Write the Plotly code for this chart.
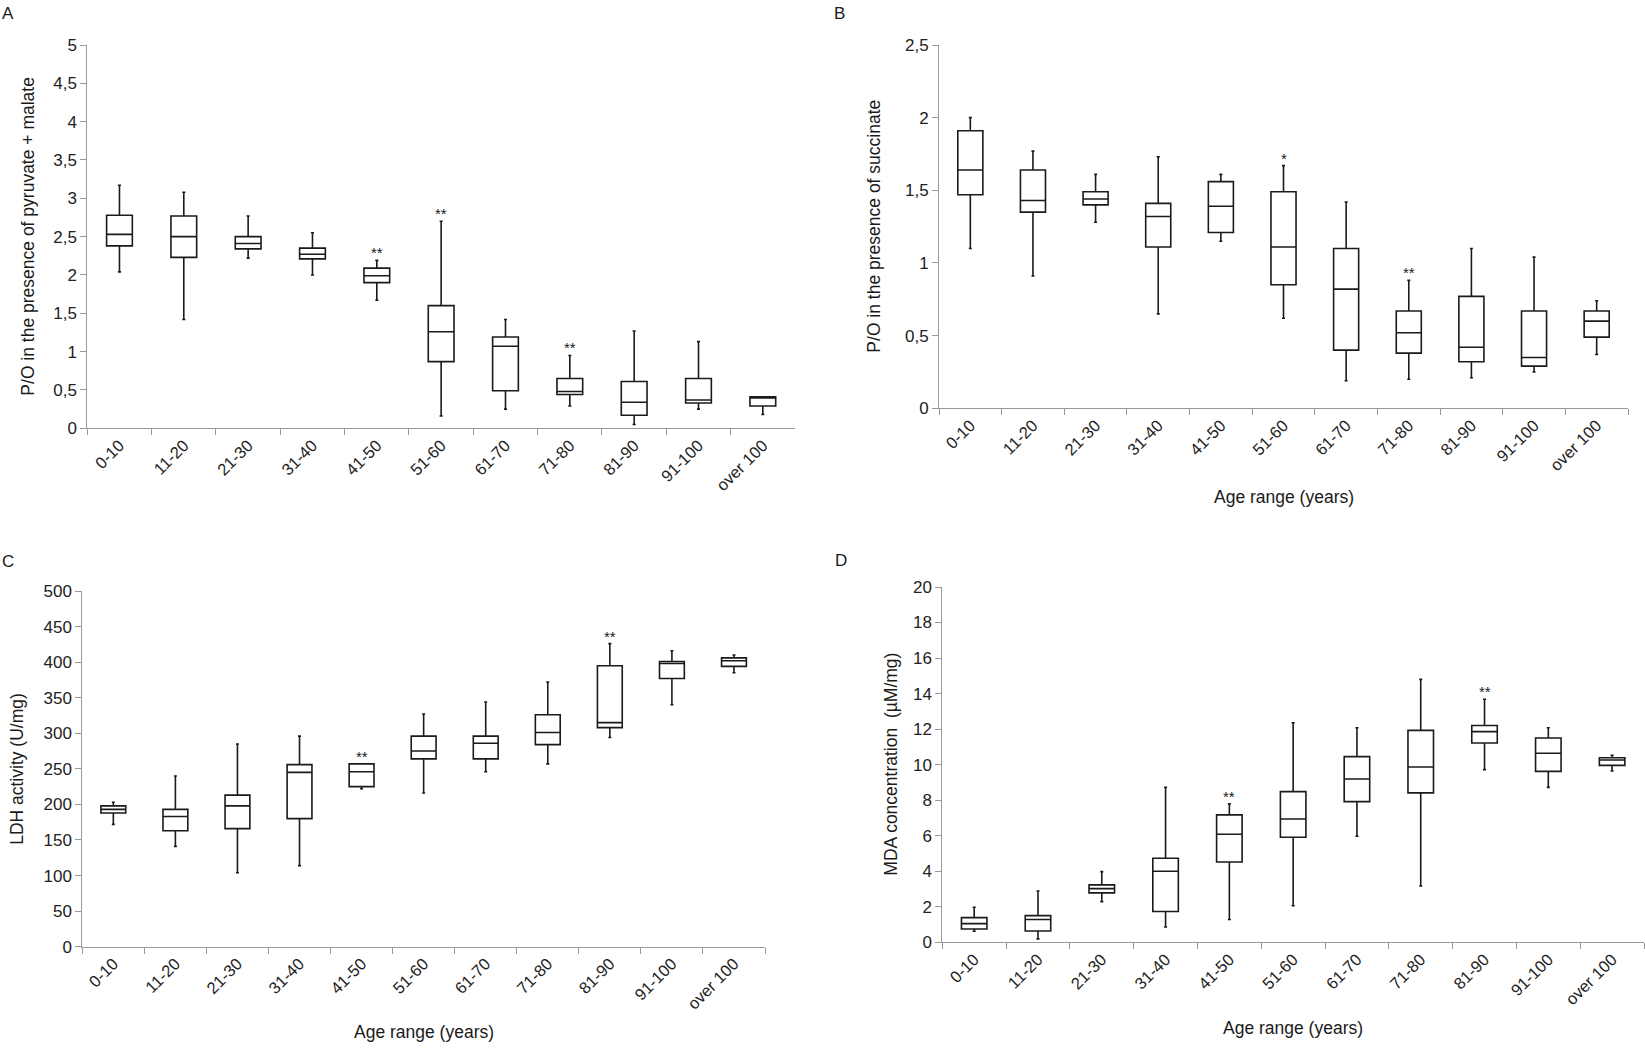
import plotly.graph_objects as go

W, H = 1645, 1051

ages = ["0-10", "11-20", "21-30", "31-40", "41-50", "51-60",
        "61-70", "71-80", "81-90", "91-100", "over 100"]

# A: P/O with pyruvate + malate
a_low = [2.04, 1.42, 2.22, 2.00, 1.67, 0.16, 0.25, 0.29, 0.05, 0.25, 0.18]
a_q1 = [2.38, 2.23, 2.34, 2.21, 1.90, 0.87, 0.49, 0.44, 0.17, 0.33, 0.29]
a_med = [2.53, 2.50, 2.41, 2.27, 1.99, 1.26, 1.07, 0.48, 0.34, 0.37, 0.40]
a_q3 = [2.78, 2.77, 2.50, 2.35, 2.09, 1.60, 1.19, 0.65, 0.61, 0.65, 0.41]
a_high = [3.17, 3.08, 2.77, 2.55, 2.19, 2.70, 1.42, 0.95, 1.27, 1.13, 0.41]
a_stars = {"41-50": "**", "51-60": "**", "71-80": "**"}

# B: P/O with succinate
b_low = [1.10, 0.91, 1.28, 0.65, 1.15, 0.62, 0.19, 0.20, 0.21, 0.25, 0.37]
b_q1 = [1.47, 1.35, 1.40, 1.11, 1.21, 0.85, 0.40, 0.38, 0.32, 0.29, 0.49]
b_med = [1.64, 1.43, 1.44, 1.32, 1.39, 1.11, 0.82, 0.52, 0.42, 0.35, 0.60]
b_q3 = [1.91, 1.64, 1.49, 1.41, 1.56, 1.49, 1.10, 0.67, 0.77, 0.67, 0.67]
b_high = [2.00, 1.77, 1.61, 1.73, 1.61, 1.67, 1.42, 0.88, 1.10, 1.04, 0.74]
b_stars = {"51-60": "*", "71-80": "**"}

# C: LDH activity
c_low = [172, 141, 104, 114, 222, 216, 246, 257, 294, 340, 385]
c_q1 = [188, 163, 166, 180, 225, 264, 264, 284, 308, 377, 394]
c_med = [193, 183, 198, 245, 246, 275, 286, 301, 315, 398, 402]
c_q3 = [198, 193, 213, 256, 257, 296, 296, 326, 395, 401, 406]
c_high = [203, 240, 285, 296, 257, 327, 344, 372, 426, 416, 410]
c_stars = {"41-50": "**", "81-90": "**"}

# D: MDA concentration
d_low = [0.62, 0.19, 2.29, 0.86, 1.28, 2.06, 5.97, 3.17, 9.72, 8.72, 9.64]
d_q1 = [0.75, 0.64, 2.78, 1.73, 4.52, 5.91, 7.92, 8.41, 11.22, 9.62, 9.96]
d_med = [1.05, 1.28, 3.02, 4.00, 6.08, 6.94, 9.19, 9.87, 11.86, 10.64, 10.26]
d_q3 = [1.39, 1.50, 3.23, 4.73, 7.17, 8.48, 10.45, 11.93, 12.20, 11.50, 10.39]
d_high = [1.97, 2.89, 3.98, 8.72, 7.79, 12.36, 12.08, 14.80, 13.68, 12.08, 10.53]
d_stars = {"41-50": "**", "81-90": "**"}

FONT = "Liberation Sans, Arial, sans-serif"
AXIS_GREY = "#9a9a9a"
INK = "#1a1a1a"


def px_x(p):
    return p / W


def px_y(p):
    return 1 - p / H


# pixel placement of each panel in the 1645x1051 page
panels = [
    dict(stats=(a_low, a_q1, a_med, a_q3, a_high), stars=a_stars, ymax=5, dtick=0.5,
         ytitle="P/O in the presence of pyruvate + malate", xdom=(87.3, 795), ydom=(45, 428.3),
         letter=("A", 8, 14), ytx=28, xty=None),
    dict(stats=(b_low, b_q1, b_med, b_q3, b_high), stars=b_stars, ymax=2.5, dtick=0.5,
         ytitle="P/O in the presence of succinate", xdom=(939, 1628), ydom=(45, 408.3),
         letter=("B", 840, 14), ytx=874, xty=497),
    dict(stats=(c_low, c_q1, c_med, c_q3, c_high), stars=c_stars, ymax=500, dtick=50,
         ytitle="LDH activity (U/mg)", xdom=(82.3, 765), ydom=(591, 946.7),
         letter=("C", 8, 561), ytx=17, xty=1032),
    dict(stats=(d_low, d_q1, d_med, d_q3, d_high), stars=d_stars, ymax=20, dtick=2,
         ytitle="MDA concentration  (µM/mg)", xdom=(942.3, 1644), ydom=(587, 942.3),
         letter=("D", 841, 560), ytx=891, xty=1028),
]

fig = go.Figure()
annotations = []
layout = {}

for i, p in enumerate(panels, start=1):
    sfx = "" if i == 1 else str(i)
    low, q1, med, q3, high = p["stats"]
    fig.add_trace(go.Box(
        x=ages, q1=q1, median=med, q3=q3, lowerfence=low, upperfence=high,
        xaxis="x" + sfx, yaxis="y" + sfx,
        width=0.4, whiskerwidth=0.12, boxpoints=False,
        fillcolor="white", line=dict(color=INK, width=1.6),
        showlegend=False, hoverinfo="skip",
    ))
    layout["xaxis" + sfx] = dict(
        domain=[px_x(p["xdom"][0]), px_x(p["xdom"][1])], anchor="y" + sfx,
        type="category", categoryorder="array", categoryarray=ages,
        range=[-0.5, len(ages) - 0.5], showline=True, linecolor=AXIS_GREY, linewidth=1,
        ticks="outside", tickson="boundaries", ticklen=6, tickcolor=AXIS_GREY,
        tickangle=-45, tickfont=dict(size=16.5, color="#222", family=FONT),
        showgrid=False, zeroline=False, automargin=False,
    )
    layout["yaxis" + sfx] = dict(
        domain=[px_y(p["ydom"][1]), px_y(p["ydom"][0])], anchor="x" + sfx,
        range=[0, p["ymax"]], dtick=p["dtick"], showline=True, linecolor=AXIS_GREY,
        linewidth=1, ticks="outside", ticklen=6, tickcolor=AXIS_GREY,
        tickfont=dict(size=17, color="#222", family=FONT),
        showgrid=False, zeroline=False, automargin=False,
    )
    for cat, mark in p["stars"].items():
        k = ages.index(cat)
        annotations.append(dict(
            x=cat, y=high[k], xref="x" + sfx, yref="y" + sfx, text=mark,
            showarrow=False, yanchor="bottom", yshift=-3,
            font=dict(size=15, color=INK, family=FONT),
        ))
    letter, lx, ly = p["letter"]
    annotations.append(dict(
        x=px_x(lx), y=px_y(ly), xref="paper", yref="paper", text=letter,
        showarrow=False, xanchor="center", yanchor="middle",
        font=dict(size=17, color=INK, family=FONT),
    ))
    annotations.append(dict(
        x=px_x(p["ytx"]), y=(px_y(p["ydom"][0]) + px_y(p["ydom"][1])) / 2,
        xref="paper", yref="paper", text=p["ytitle"], textangle=-90,
        showarrow=False, xanchor="center", yanchor="middle",
        font=dict(size=17.5, color=INK, family=FONT),
    ))
    if p["xty"] is not None:
        annotations.append(dict(
            x=(px_x(p["xdom"][0]) + px_x(p["xdom"][1])) / 2, y=px_y(p["xty"]),
            xref="paper", yref="paper", text="Age range (years)",
            showarrow=False, xanchor="center", yanchor="middle",
            font=dict(size=17.5, color=INK, family=FONT),
        ))

fig.update_layout(
    width=W, height=H, margin=dict(l=0, r=0, t=0, b=0, autoexpand=False),
    paper_bgcolor="white", plot_bgcolor="white",
    separators=", ", font=dict(family=FONT, color=INK),
    annotations=annotations, **layout,
)

# drop the browser's default page margin so the figure sits at the window corner
fig.write_html("out.html", config={"displayModeBar": False},
               post_script="document.body.style.margin = '0';")
